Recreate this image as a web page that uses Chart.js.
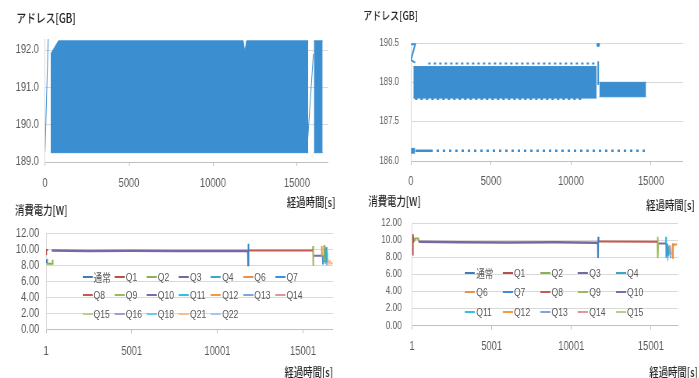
<!DOCTYPE html>
<html>
<head>
<meta charset="utf-8">
<script src="https://cdn.jsdelivr.net/npm/chart.js@4.4.0/dist/chart.umd.min.js"></script>
<style>
html, body { margin: 0; padding: 0; background: #fff; width: 699px; height: 378px; overflow: hidden; }
.wrap { position: absolute; transform-origin: 0 0; transform: scaleX(0.78); }
.wrap canvas { position: absolute; left: 0; top: 0; }
.leg { position: absolute; }
.leg .item { position: absolute; height: 16px; margin-top: -8px; display: flex; align-items: center;
  font: 11px 'Liberation Sans', 'Noto Sans CJK JP', sans-serif; color: #595959; white-space: nowrap; }
.leg .item i { display: inline-block; width: 13px; height: 2px; margin-right: 1.5px; }
</style>
</head>
<body>
<div class="wrap" style="left:0px;top:0px"><canvas id="addrLeft" width="430" height="215" style="width:430px;height:215px"></canvas></div>
<div class="wrap" style="left:350px;top:0px"><canvas id="addrRight" width="442" height="215" style="width:442px;height:215px"></canvas></div>
<div class="wrap" style="left:0px;top:196px"><canvas id="powLeft" width="427" height="190" style="width:427px;height:190px"></canvas>
  <div class="leg" id="legLeft" style="left:105.5px;top:80.7px"></div></div>
<div class="wrap" style="left:350px;top:190px"><canvas id="powRight" width="446" height="195" style="width:446px;height:195px"></canvas>
  <div class="leg" id="legRight" style="left:147.4px;top:82.7px"></div></div>
<script>
// ---- address charts: time [s] / address [GB] ----
var addrLTicksX = [0, 5000, 10000, 15000];
var addrLTicksY = [189, 190, 191, 192];
var addrLRampT = [0, 190];
var addrLRampV = [189.28, 192.3];
var addrLBandT = [340, 800, 11800, 11900, 12000, 15675];
var addrLBandHi = [191.9, 192.25, 192.25, 191.95, 192.25, 192.25];
var addrLBandLo = [189.25, 189.25, 189.25, 189.25, 189.25, 189.25];
var addrLRamp2T = [15640, 15980];
var addrLRamp2V = [189.6, 191.9];
var addrLBand2T = [16010, 16530];
var addrLBand2Hi = [192.25, 192.25];
var addrLBand2Lo = [189.25, 189.25];

var addrRTicksX = [0, 5000, 10000, 15000];
var addrRTicksY = [186, 187.5, 189, 190.5];
var addrRZT = [0, 260, 0, 260];
var addrRZV = [190.45, 190.45, 189.85, 189.75];
var addrRBandT = [150, 11600];
var addrRBandHi = [189.6, 189.6];
var addrRBandLo = [188.4, 188.4];
var addrRTopDotsT = [1080, 11600];
var addrRTopDotsV = [189.72, 189.72];
var addrRBotDotsT = [250, 10750];
var addrRBotDotsV = [188.36, 188.36];
var addrRStepT = [11700, 11700];
var addrRStepV = [189.8, 188.9];
var addrRPeakT = [11700];
var addrRPeakV = [190.43];
var addrRBand2T = [11770, 14690];
var addrRBand2Hi = [189.0, 189.0];
var addrRBand2Lo = [188.45, 188.45];
var addrRLowBlockT = [0, 250];
var addrRLowBlockHi = [186.48, 186.48];
var addrRLowBlockLo = [186.3, 186.3];
var addrRLowT = [270, 1210];
var addrRLowV = [186.39, 186.39];
var addrRLowDotsT = [1210, 14690];
var addrRLowDotsV = [186.39, 186.39];

// ---- power charts: time [s] / power [W], points are [time, watt] ----
var powTicksX = [1, 5001, 10001, 15001];
var powTicksY = [0, 2, 4, 6, 8, 10, 12];

var powLNames = ['通常', 'Q1', 'Q2', 'Q3', 'Q4', 'Q6', 'Q7', 'Q8', 'Q9', 'Q10', 'Q11', 'Q12', 'Q13', 'Q14', 'Q15', 'Q16', 'Q18', 'Q21', 'Q22'];
var powLPoints = [
	[[1, 8.7], [25, 8.3], [30, null], [11780, 9.8], [11795, 8.0], [11805, 10.7], [11815, 8.0], [11825, 9.85]],
	[[1, 9.4], [15, 9.9], [110, 9.9]],
	[[60, 8.8], [70, 8.2], [380, 8.2], [390, 8.7], [400, null], [16210, 8.5], [16225, 10.5], [16240, 8.6]],
	[[330, 9.85], [2500, 9.8], [5000, 9.82], [7500, 9.78], [10000, 9.8], [11780, 9.8]],
	[[16330, 9.0], [16345, 10.2], [16360, 8.4]],
	[[16080, 9.2], [16090, 10.4], [16110, 10.3]],
	[[16150, 9.2], [16165, 8.1]],
	[[11825, 9.85], [15570, 9.85]],
	[[15570, 9.85], [15585, 10.4], [15600, 7.9]],
	[[15600, 9.2], [16080, 9.2]],
	[[16280, 10.2], [16295, 8.2]],
	[[16260, 10.5], [16275, 9.6]],
	[[16370, 10.3], [16385, 8.0]],
	[[16300, 9.0], [16380, 9.0]],
	[[16110, 9.0], [16130, 9.6]],
	[[16190, 9.3], [16210, 9.0]],
	[[16400, 9.6], [16420, 8.4]],
	[[16430, 8.3], [16470, 8.6], [16520, 8.2], [16580, 8.5], [16640, 8.2], [16740, 8.3]],
	[[16420, 8.4], [16440, 8.3]]
];

var powRNames = ['通常', 'Q1', 'Q2', 'Q3', 'Q4', 'Q6', 'Q7', 'Q8', 'Q9', 'Q10', 'Q11', 'Q12', 'Q13', 'Q14', 'Q15'];
var powRPoints = [
	[[11660, 9.7], [11680, 7.9], [11695, 10.4], [11710, 9.85]],
	[[40, 8.3], [55, 10.7], [90, 9.8], [140, 9.9]],
	[[150, 9.9], [180, 10.2], [400, 10.2], [420, 9.8]],
	[[420, 9.8], [3000, 9.75], [6000, 9.72], [9000, 9.75], [11660, 9.7]],
	[[16080, 9.3], [16100, 8.2]],
	[[16360, 8.0], [16380, 9.5], [16500, 9.4]],
	[[16000, 9.6], [16020, 8.1]],
	[[11710, 9.85], [15410, 9.8]],
	[[15410, 9.8], [15420, 10.4], [15440, 7.9], [15460, 9.6]],
	[[15460, 9.6], [15930, 9.6]],
	[[15930, 9.6], [15945, 10.4], [15960, 7.9]],
	[[16340, 7.9], [16370, 9.5], [16650, 9.5]],
	[[15980, 9.3], [16060, 8.0], [16150, 9.0], [16250, 7.9]],
	[[16200, 9.4], [16280, 8.3]],
	[[16040, 9.5], [16060, 8.6]]
];

var seriesColors = {
	'通常': '#3E7EB8', 'Q1': '#B8504B', 'Q2': '#8BB04E', 'Q3': '#7A66A0', 'Q4': '#3AA9C4',
	'Q6': '#E8914A', 'Q7': '#3E8DDB', 'Q8': '#C75A50', 'Q9': '#99BB5A', 'Q10': '#7E6AAE',
	'Q11': '#2CC2E6', 'Q12': '#F49B3C', 'Q13': '#7BA7DA', 'Q14': '#DB9896', 'Q15': '#B5D08E',
	'Q16': '#A898CC', 'Q18': '#6EC6EA', 'Q21': '#F8BB8C', 'Q22': '#A8C4E6'
};

var BLUE = '#3B8ED0';
var TEXT = '#595959';
var TITLE = '#262626';
var LATIN = "'Liberation Sans', 'Noto Sans CJK JP', sans-serif";
var CJK = "'Noto Sans CJK JP', sans-serif";

function pts(t, v) {
	return t.map(function(x, i) { return { x: x, y: v[i] }; });
}

function pairs(p) {
	return p.map(function(a) { return { x: a[0], y: a[1] }; });
}

function line(data, extra) {
	var d = { data: data, yAxisID: 'y', borderColor: BLUE, backgroundColor: BLUE, borderWidth: 1,
		pointRadius: 0, fill: false, tension: 0 };
	for (var k in extra) d[k] = extra[k];
	return d;
}

function band(t, hi, lo) {
	return [line(pts(t, hi), { fill: '+1' }), line(pts(t, lo))];
}

function makeOptions(c) {
	return {
		responsive: false,
		animation: false,
		layout: { padding: { left: c.padL, top: 0, right: 0, bottom: 0 } },
		plugins: {
			legend: { display: false },
			tooltip: { enabled: false },
			title: { display: true, text: c.title, align: 'start', color: TITLE,
				font: { family: CJK, size: c.titleSize, weight: '500' },
				padding: { top: c.titleTop, bottom: c.titleBottom } },
			subtitle: { display: true, position: 'bottom', align: 'end', text: '経過時間[s]', color: TITLE,
				font: { family: CJK, size: 12, weight: '500' },
				padding: { top: 0, bottom: c.xTitleBottom } }
		},
		scales: {
			x: {
				type: 'linear', min: c.xMin, max: c.xMax,
				afterBuildTicks: function(s) { s.ticks = c.xTicks.map(function(v) { return { value: v }; }); },
				afterFit: function(s) { s.height = c.xHeight; },
				grid: { drawOnChartArea: false, tickLength: 4, color: '#BFBFBF' },
				border: { color: '#BFBFBF' },
				ticks: { padding: c.xPad, color: TEXT, font: { family: LATIN, size: 12 }, maxRotation: 0, autoSkip: false,
					callback: function(v) { return String(v); } }
			},
			y: {
				type: 'linear', min: c.yMin, max: c.yMax,
				afterBuildTicks: function(s) { s.ticks = c.yTicks.map(function(v) { return { value: v }; }); },
				afterFit: function(s) { s.width = c.yWidth; },
				grid: { color: '#D9D9D9', drawTicks: false },
				border: { color: '#D9D9D9' },
				ticks: { padding: c.yPad, color: TEXT, font: { family: LATIN, size: c.ySize }, autoSkip: false,
					callback: function(v) { return Number(v).toFixed(c.yDec); } }
			},
			pad: {
				type: 'linear', position: 'right', display: true,
				grid: { display: false }, border: { display: false }, ticks: { display: false },
				afterFit: function(s) { s.width = c.padR; }
			}
		}
	};
}

function powerDatasets(names, points) {
	return names.map(function(n, i) {
		return { label: n, data: pairs(points[i]), yAxisID: 'y', borderColor: seriesColors[n],
			backgroundColor: seriesColors[n], borderWidth: n === 'Q3' ? 2.5 : 2, pointRadius: 0,
			fill: false, tension: 0, spanGaps: false };
	});
}

function htmlLegend(el, chart, cols, pitchX, pitchY) {
	chart.data.datasets.forEach(function(ds, i) {
		var item = document.createElement('div');
		item.className = 'item';
		item.style.left = (i % cols) * pitchX + 'px';
		item.style.top = Math.floor(i / cols) * pitchY + 'px';
		var mark = document.createElement('i');
		mark.style.background = ds.borderColor;
		item.appendChild(mark);
		item.appendChild(document.createTextNode(ds.label));
		el.appendChild(item);
	});
}

// top left
var addrLeftSets = [line(pts(addrLRampT, addrLRampV))]
	.concat(band(addrLBandT, addrLBandHi, addrLBandLo))
	.concat([line(pts(addrLRamp2T, addrLRamp2V))])
	.concat(band(addrLBand2T, addrLBand2Hi, addrLBand2Lo));
new Chart(document.getElementById('addrLeft'), {
	type: 'line',
	data: { datasets: addrLeftSets },
	options: makeOptions({ title: 'アドレス[GB]', titleSize: 12.5, titleTop: 10.5, titleBottom: 13.5,
		padL: 21, yWidth: 36.7, yPad: 7.7, ySize: 12, yMin: 189, yMax: 192.3, yTicks: addrLTicksY, yDec: 1,
		xMin: 0, xMax: 16850, xTicks: addrLTicksX, xHeight: 32.8, xPad: 10, xTitleBottom: 5.8, padR: 9.5 })
});

// top right
var addrRightSets = [line(pts(addrRZT, addrRZV), { borderWidth: 2 })]
	.concat(band(addrRBandT, addrRBandHi, addrRBandLo))
	.concat([
		line(pts(addrRTopDotsT, addrRTopDotsV), { borderWidth: 2, borderDash: [3, 4] }),
		line(pts(addrRBotDotsT, addrRBotDotsV), { borderWidth: 2, borderDash: [3, 4] }),
		line(pts(addrRStepT, addrRStepV), { borderWidth: 2 }),
		line(pts(addrRPeakT, addrRPeakV), { pointRadius: 1.8, showLine: false })
	])
	.concat(band(addrRBand2T, addrRBand2Hi, addrRBand2Lo))
	.concat(band(addrRLowBlockT, addrRLowBlockHi, addrRLowBlockLo))
	.concat([
		line(pts(addrRLowT, addrRLowV), { borderWidth: 2.5 }),
		line(pts(addrRLowDotsT, addrRLowDotsV), { borderWidth: 2.5, borderDash: [3, 5] })
	]);
new Chart(document.getElementById('addrRight'), {
	type: 'line',
	data: { datasets: addrRightSets },
	options: makeOptions({ title: 'アドレス[GB]', titleSize: 11.5, titleTop: 9.1, titleBottom: 20.1,
		padL: 17.1, yWidth: 61.1, yPad: 15.4, ySize: 10, yMin: 186, yMax: 190.5, yTicks: addrRTicksY, yDec: 1,
		xMin: 0, xMax: 17000, xTicks: addrRTicksX, xHeight: 36.8, xPad: 9.8, xTitleBottom: 2.8, padR: 15.1 })
});

// bottom left
var powLeft = new Chart(document.getElementById('powLeft'), {
	type: 'line',
	data: { datasets: powerDatasets(powLNames, powLPoints) },
	options: makeOptions({ title: '消費電力[W]', titleSize: 12, titleTop: 6.8, titleBottom: 16.1,
		padL: 19.2, yWidth: 39.8, yPad: 8.6, ySize: 12, yMin: 0, yMax: 12, yTicks: powTicksY, yDec: 2,
		xMin: 1, xMax: 16750, xTicks: powTicksX, xHeight: 35.5, xPad: 11.5, xTitleBottom: 6.8, padR: 0.1 })
});
htmlLegend(document.getElementById('legLeft'), powLeft, 7, 41.2, 18.8);

// bottom right
var powRight = new Chart(document.getElementById('powRight'), {
	type: 'line',
	data: { datasets: powerDatasets(powRNames, powRPoints) },
	options: makeOptions({ title: '消費電力[W]', titleSize: 12, titleTop: 4.5, titleBottom: 14.1,
		padL: 23.5, yWidth: 56, yPad: 13.2, ySize: 10.5, yMin: 0, yMax: 12, yTicks: powTicksY, yDec: 2,
		xMin: 1, xMax: 16700, xTicks: powTicksX, xHeight: 39.1, xPad: 10.1, xTitleBottom: 5.8, padR: 25.5 })
});
htmlLegend(document.getElementById('legRight'), powRight, 5, 48.3, 19.5);
</script>
</body>
</html>
